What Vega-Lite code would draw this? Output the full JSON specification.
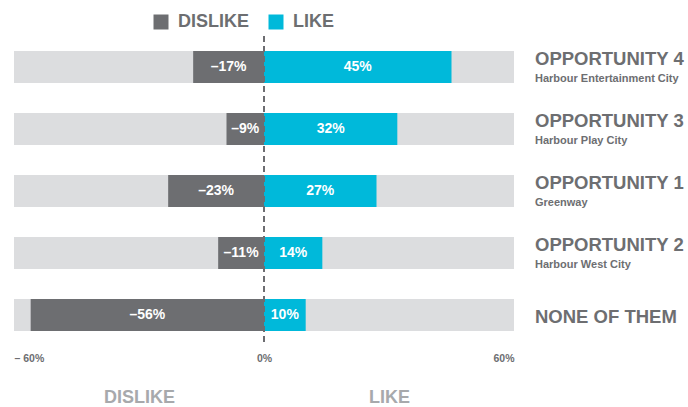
{
  "$schema": "https://vega.github.io/schema/vega-lite/v6.json",
  "width": 500,
  "height": 310,
  "autosize": {"type": "none"},
  "padding": {"left": 14, "top": 36, "right": 174, "bottom": 61},
  "background": "white",
  "config": {"view": {"stroke": null}, "font": "Liberation Sans"},
  "data": {
    "values": [
      {"opp": "OPPORTUNITY 4", "sub": "Harbour Entertainment City", "sentiment": "DISLIKE", "value": -17},
      {"opp": "OPPORTUNITY 4", "sub": "Harbour Entertainment City", "sentiment": "LIKE", "value": 45},
      {"opp": "OPPORTUNITY 3", "sub": "Harbour Play City", "sentiment": "DISLIKE", "value": -9},
      {"opp": "OPPORTUNITY 3", "sub": "Harbour Play City", "sentiment": "LIKE", "value": 32},
      {"opp": "OPPORTUNITY 1", "sub": "Greenway", "sentiment": "DISLIKE", "value": -23},
      {"opp": "OPPORTUNITY 1", "sub": "Greenway", "sentiment": "LIKE", "value": 27},
      {"opp": "OPPORTUNITY 2", "sub": "Harbour West City", "sentiment": "DISLIKE", "value": -11},
      {"opp": "OPPORTUNITY 2", "sub": "Harbour West City", "sentiment": "LIKE", "value": 14},
      {"opp": "NONE OF THEM", "sub": "", "sentiment": "DISLIKE", "value": -56},
      {"opp": "NONE OF THEM", "sub": "", "sentiment": "LIKE", "value": 10}
    ]
  },
  "layer": [
    {
      "encoding": {
        "y": {"field": "opp", "type": "nominal", "sort": null, "axis": null,
              "scale": {"paddingInner": 0.486, "paddingOuter": 0.243}}
      },
      "layer": [
        {
          "mark": {"type": "bar", "color": "#dcdddf"},
          "encoding": {
            "x": {"datum": -60, "type": "quantitative",
                  "scale": {"domain": [-60, 60], "nice": false, "zero": false},
                  "axis": {"values": [-60, 0, 60], "grid": false, "domain": false, "ticks": false,
                           "labelFlush": true, "labelPadding": 7, "labelFontSize": 10.5,
                           "labelFontWeight": "bold", "labelColor": "#6d6e71", "title": null,
                           "labelExpr": "datum.value < 0 ? '– ' + abs(datum.value) + '%' : datum.value + '%'"}},
            "x2": {"datum": 60}
          }
        },
        {
          "mark": {"type": "bar"},
          "encoding": {
            "x": {"field": "value", "type": "quantitative"},
            "x2": {"datum": 0},
            "color": {"field": "sentiment", "type": "nominal",
                      "scale": {"domain": ["DISLIKE", "LIKE"], "range": ["#6d6e71", "#00b9da"]},
                      "legend": {"title": null, "orient": "none", "legendX": 138, "legendY": -23,
                                 "direction": "horizontal", "symbolType": "square", "symbolSize": 225,
                                 "symbolStrokeWidth": 0, "labelFontSize": 18, "labelFontWeight": "bold",
                                 "labelColor": "#6d6e71", "labelOffset": 8, "columnPadding": 17,
                                 "padding": 0}}
          }
        },
        {
          "transform": [
            {"calculate": "datum.value / 2", "as": "mid"},
            {"calculate": "(datum.value < 0 ? '–' : '') + abs(datum.value) + '%'", "as": "label"}
          ],
          "mark": {"type": "text", "color": "white", "fontSize": 14, "fontWeight": "bold", "baseline": "middle"},
          "encoding": {
            "x": {"field": "mid", "type": "quantitative"},
            "text": {"field": "label"}
          }
        },
        {
          "transform": [{"filter": "datum.sentiment == 'LIKE' && datum.sub != ''"}],
          "mark": {"type": "text", "align": "left", "baseline": "middle", "dx": 21, "dy": -8,
                   "fontSize": 18.5, "fontWeight": "bold", "color": "#6d6e71"},
          "encoding": {"x": {"datum": 60}, "text": {"field": "opp"}}
        },
        {
          "transform": [{"filter": "datum.sentiment == 'LIKE' && datum.sub == ''"}],
          "mark": {"type": "text", "align": "left", "baseline": "middle", "dx": 21, "dy": 2,
                   "fontSize": 18.5, "fontWeight": "bold", "color": "#6d6e71"},
          "encoding": {"x": {"datum": 60}, "text": {"field": "opp"}}
        },
        {
          "transform": [{"filter": "datum.sentiment == 'LIKE' && datum.sub != ''"}],
          "mark": {"type": "text", "align": "left", "baseline": "middle", "dx": 21, "dy": 12,
                   "fontSize": 11, "fontWeight": "bold", "color": "#6d6e71"},
          "encoding": {"x": {"datum": 60}, "text": {"field": "sub"}}
        }
      ]
    },
    {
      "mark": {"type": "rule", "color": "#6d6e71", "strokeDash": [6, 4], "strokeWidth": 1.5},
      "encoding": {
        "x": {"datum": 0, "type": "quantitative",
              "scale": {"domain": [-60, 60], "nice": false, "zero": false},
              "axis": {"orient": "bottom", "values": [-30, 30], "grid": false, "domain": false, "ticks": false,
                       "labelPadding": 42, "labelFontSize": 18, "labelFontWeight": "bold",
                       "labelColor": "#a7a9ac", "title": null,
                       "labelExpr": "datum.value < 0 ? 'DISLIKE' : 'LIKE'"}}
      }
    }
  ],
  "resolve": {"scale": {"x": "independent"}}
}
